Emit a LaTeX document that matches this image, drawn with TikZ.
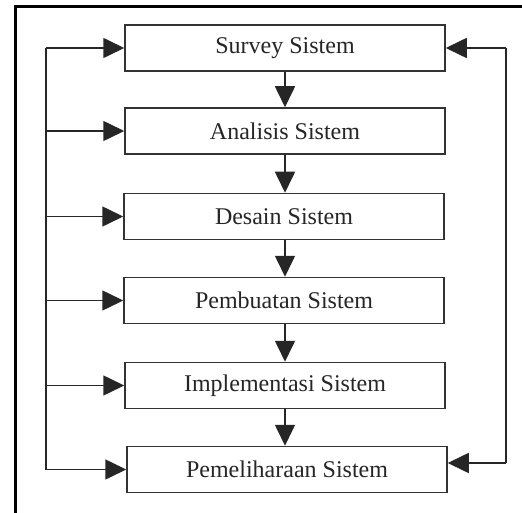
\documentclass[tikz,border=0pt]{standalone}
\usepackage{fontspec}
\setmainfont{Liberation Serif}
\usetikzlibrary{arrows.meta,calc}
\begin{document}
\begin{tikzpicture}[x=1pt,y=-1pt,
  stepbox/.style={draw=black!80,line width=1.5pt,minimum width=320pt,minimum height=46pt,inner sep=0pt,
    font=\fontsize{24}{28}\selectfont,text=black!85},
  flow/.style={draw=black!85,line width=1.6pt,-{Triangle[length=21pt,width=20pt]}},
  loopline/.style={draw=black!85,line width=1.6pt}]
\useasboundingbox (0,0) rectangle (522,513);
\fill[white] (0,0) rectangle (522,513);
\draw[line width=3pt,black] (15.5,513) -- (15.5,6.5) -- (522,6.5);
\node[stepbox] (s1) at (285,48) {Survey Sistem};
\node[stepbox] (s2) at (285,131) {Analisis Sistem};
\node[stepbox] (s3) at (284,216.5) {Desain Sistem};
\node[stepbox] (s4) at (284,300.5) {Pembuatan Sistem};
\node[stepbox] (s5) at (285,385.5) {Implementasi Sistem};
\node[stepbox] (s6) at (287,469.5) {Pemeliharaan Sistem};
\coordinate (Ltop) at (46,48);
\coordinate (Lbot) at (46,469.5);
\coordinate (Rtop) at (506,48);
\coordinate (Rbot) at (506,463);
\draw[loopline] (Ltop) -- (Lbot);
\draw[loopline] (Rtop) -- (Rbot);
\foreach \n in {s1,s2,s3,s4,s5,s6}{
  \draw[flow] (\n.west -| Ltop) -- (\n.west);
}
\draw[flow] (Rtop) -- (s1.east |- Rtop);
\draw[flow] (Rbot) -- (s6.east |- Rbot);
\draw[flow] (s1.south -| 285,0) -- (s2.north -| 285,0);
\draw[flow] (s2.south -| 285,0) -- (s3.north -| 285,0);
\draw[flow] (s3.south -| 285,0) -- (s4.north -| 285,0);
\draw[flow] (s4.south -| 285,0) -- (s5.north -| 285,0);
\draw[flow] (s5.south -| 285,0) -- (s6.north -| 285,0);
\end{tikzpicture}
\end{document}
